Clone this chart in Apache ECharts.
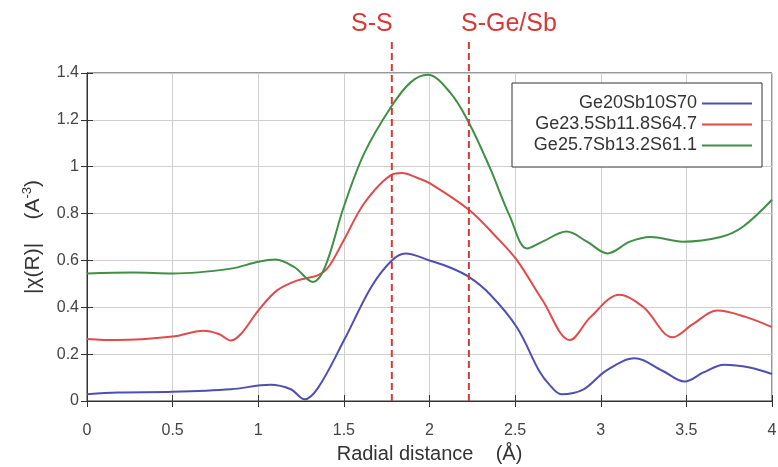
<!DOCTYPE html>
<html>
<head>
<meta charset="utf-8">
<script src="https://cdn.jsdelivr.net/npm/echarts@6/dist/echarts.min.js"></script>
<style>
html,body{margin:0;padding:0;background:#fff;}
#c{width:778px;height:467px;}
</style>
</head>
<body>
<div id="c"></div>
<script>
// ---- data ----
const seriesNames = ['Ge20Sb10S70', 'Ge23.5Sb11.8S64.7', 'Ge25.7Sb13.2S61.1'];

const blueX = [0, 0.18, 0.5, 0.84, 1.07, 1.19, 1.27, 1.35, 1.5, 1.66, 1.78, 1.86, 2.0, 2.12, 2.23, 2.35, 2.51, 2.64, 2.70, 2.77, 2.90, 3.03, 3.20, 3.36, 3.49, 3.60, 3.72, 3.87, 4.0];
const blueY = [0.029, 0.036, 0.039, 0.05, 0.069, 0.05, 0.007, 0.057, 0.258, 0.487, 0.60, 0.63, 0.60, 0.57, 0.53, 0.458, 0.315, 0.129, 0.07, 0.029, 0.05, 0.129, 0.182, 0.129, 0.083, 0.122, 0.155, 0.143, 0.115];

const redX = [0, 0.17, 0.5, 0.68, 0.77, 0.84, 0.90, 1.0, 1.11, 1.23, 1.35, 1.41, 1.50, 1.62, 1.78, 1.84, 1.93, 2.0, 2.23, 2.39, 2.51, 2.66, 2.82, 2.94, 3.11, 3.25, 3.42, 3.54, 3.68, 3.85, 4.0];
const redY = [0.265, 0.26, 0.275, 0.30, 0.286, 0.258, 0.287, 0.386, 0.472, 0.515, 0.537, 0.572, 0.687, 0.845, 0.966, 0.973, 0.952, 0.93, 0.816, 0.70, 0.601, 0.43, 0.26, 0.358, 0.454, 0.40, 0.272, 0.329, 0.386, 0.358, 0.315];

const greenX = [0, 0.27, 0.5, 0.84, 1.0, 1.10, 1.21, 1.32, 1.39, 1.50, 1.62, 1.78, 1.89, 1.99, 2.12, 2.23, 2.35, 2.47, 2.57, 2.66, 2.80, 2.92, 3.04, 3.17, 3.29, 3.48, 3.70, 3.83, 4.0];
const greenY = [0.544, 0.548, 0.544, 0.565, 0.594, 0.604, 0.572, 0.508, 0.572, 0.83, 1.059, 1.26, 1.36, 1.392, 1.317, 1.188, 1.00, 0.787, 0.651, 0.68, 0.723, 0.68, 0.63, 0.68, 0.70, 0.68, 0.70, 0.744, 0.859];

const markX = [1.78, 2.23];
const markLabels = ['S-S', 'S-Ge/Sb'];
const markTop = 1.54;

// ---- chart ----
const colors = ['#4f4fb3', '#e04a4a', '#3f8f45'];
const FONT = '"Liberation Sans", Arial, sans-serif';
const pairs = (xs, ys) => xs.map((x, i) => [x, ys[i]]);

const chart = echarts.init(document.getElementById('c'), null, {renderer: 'canvas'});

const axisCommon = {
  type: 'value',
  axisLine: {show: true, lineStyle: {color: '#333', width: 1}},
  axisTick: {show: true, inside: true, length: 6, lineStyle: {color: '#333'}},
};

chart.setOption({
  animation: false,
  backgroundColor: '#fff',
  color: colors,
  textStyle: {fontFamily: FONT},
  grid: {left: 87, right: 6, top: 73, bottom: 66, show: true, borderColor: '#333', borderWidth: 1,
         containLabel: false, outerBoundsMode: 'none'},
  legend: {
    orient: 'vertical',
    right: 16,
    top: 83,
    align: 'right',
    icon: 'rect',
    itemWidth: 50,
    itemHeight: 2,
    itemGap: 0,
    padding: [10, 10, 11, 17],
    borderColor: '#333',
    borderWidth: 1,
    backgroundColor: '#fff',
    textStyle: {fontSize: 18, color: '#333', lineHeight: 21, width: 168, fontFamily: FONT},
    data: seriesNames
  },
  xAxis: [
    Object.assign({}, axisCommon, {
      min: 0, max: 4, interval: 0.5,
      name: 'Radial distance    (\u00C5)',
      nameLocation: 'middle',
      nameGap: 43,
      nameMoveOverlap: false,
      nameTextStyle: {fontSize: 20, color: '#333', fontFamily: FONT},
      axisLabel: {fontSize: 16, color: '#444', margin: 22, formatter: v => String(v)},
      splitLine: {show: true, lineStyle: {color: '#cfcfcf', width: 1}}
    }),
    Object.assign({}, axisCommon, {
      position: 'top', min: 0, max: 4, interval: 0.5,
      axisLabel: {show: false}, splitLine: {show: false}
    })
  ],
  yAxis: [
    Object.assign({}, axisCommon, {
      min: 0, max: 1.4, interval: 0.2,
      name: '{a||\u03C7(R)|}{a|    (A}{s|-3}{a|)}',
      nameLocation: 'middle',
      nameGap: 42,
      nameMoveOverlap: false,
      nameTextStyle: {
        fontSize: 20, color: '#333', fontFamily: FONT,
        rich: {
          a: {fontSize: 21, color: '#333', fontFamily: FONT, lineHeight: 24},
          s: {fontSize: 13, color: '#333', fontFamily: FONT, verticalAlign: 'top', lineHeight: 13}
        }
      },
      axisLabel: {fontSize: 16, color: '#444', margin: 8, formatter: v => String(+v.toFixed(1))},
      splitLine: {show: true, lineStyle: {color: '#cfcfcf', width: 1}}
    }),
    Object.assign({}, axisCommon, {
      position: 'right', min: 0, max: 1.4, interval: 0.2,
      axisLabel: {show: false}, splitLine: {show: false}
    })
  ],
  series: [
    {name: seriesNames[0], type: 'line', data: pairs(blueX, blueY)},
    {name: seriesNames[1], type: 'line', data: pairs(redX, redY)},
    {name: seriesNames[2], type: 'line', data: pairs(greenX, greenY)}
  ].map((s, i) => Object.assign(s, {
    showSymbol: false, symbol: 'none', smooth: 0.35,
    lineStyle: {width: 2, color: colors[i]}, itemStyle: {color: colors[i]}, z: 3
  }))
});

// vertical dashed annotation lines, positioned through the axes
const labelShift = [-20, 40];
const g = [];
markX.forEach((v, i) => {
  const p0 = chart.convertToPixel({gridIndex: 0}, [v, 0]);
  const p1 = chart.convertToPixel({gridIndex: 0}, [v, markTop]);
  g.push({type: 'line', z: 10, shape: {x1: p0[0], y1: p0[1], x2: p1[0], y2: p1[1]},
    style: {stroke: '#d63a36', lineWidth: 2, lineDash: [7, 4]}});
  g.push({type: 'text', z: 10, x: p1[0] + labelShift[i], y: p1[1] - 16,
    style: {text: markLabels[i], font: '25px ' + FONT, fill: '#d63a36', align: 'center', verticalAlign: 'middle'}});
});
chart.setOption({graphic: g});
</script>
</body>
</html>
